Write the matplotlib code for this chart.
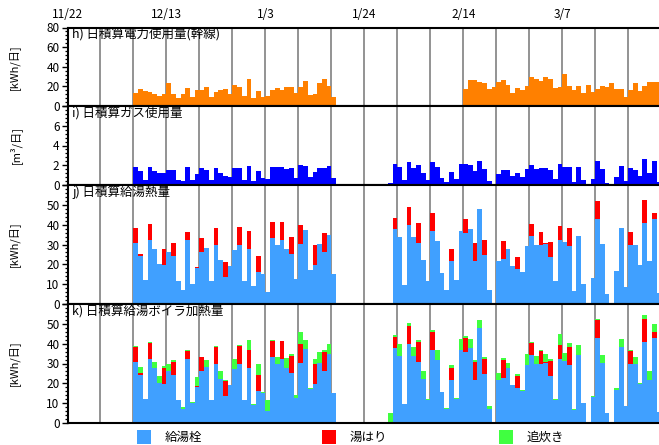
import matplotlib
matplotlib.use("Agg")
import matplotlib.pyplot as plt
from matplotlib.patches import Rectangle
from matplotlib.ticker import MultipleLocator
import numpy as np

plt.rcParams['font.family'] = ['Noto Sans CJK JP', 'DejaVu Sans']

# day index 0 = 11/22
date_ticks = [0, 21, 42, 63, 84, 105]
date_labels = ["11/22", "12/13", "1/3", "1/24", "2/14", "3/7"]
week_lines = list(range(7, 126, 7))

# h) daily electricity (trunk line) [kWh/day]
elec_start_a = 14
elec_a = [13, 17, 15, 14, 12, 10, 12, 23, 12, 8,
          12, 18, 9, 16, 16, 19, 9, 14, 16, 17,
          12, 21, 19, 10, 28, 8, 15, 9, 10, 16,
          18, 16, 19, 19, 13, 19, 25, 11, 12, 23,
          28, 20, 9]
elec_start_b = 84
elec_b = [17, 27, 26, 24, 23, 17, 19, 24, 26, 21,
          13, 18, 16, 20, 30, 28, 25, 30, 28, 18,
          19, 33, 20, 16, 20, 13, 21, 14, 17, 20,
          19, 23, 17, 17, 9, 16, 23, 15, 20, 24,
          24, 24]

# i) daily gas [m3/day]
gas_start_a = 14
gas_a = [1.86, 1.45, 0.55, 1.86, 1.45, 1.17, 1.24, 1.55, 1.55, 0.48,
         0.41, 1.86, 0.52, 1.14, 1.76, 1.55, 0.52, 1.76, 1.24, 0.93,
         0.86, 1.69, 1.76, 0.52, 1.97, 0.41, 1.45, 0.72, 0.62, 1.86,
         1.79, 1.86, 1.62, 1.69, 0.66, 2.07, 1.97, 0.86, 1.34, 1.69,
         1.69, 1.97, 0.72]
gas_start_b = 68
gas_b = [0.20, 2.17, 1.86, 0.52, 2.28, 1.76, 2.07, 1.24, 0.52, 2.28,
         1.86, 0.72, 0.31, 1.34, 0.62, 2.17, 2.17, 2.07, 1.45, 2.38,
         1.66, 0.41, 0.00, 1.14, 1.55, 1.55, 0.93, 1.24, 0.83, 1.66,
         2.07, 1.66, 1.76, 1.76, 1.55, 0.62, 2.17, 1.86, 1.86, 0.31,
         1.86, 0.52, 0.00, 0.62, 2.48, 1.66, 0.20, 0.00, 0.83, 1.97,
         0.41, 1.76, 1.55, 0.93, 2.59, 1.24, 2.48, 0.31]

# j) / k) hot water heat by use [kWh/day]
hw_start_a = 14
tap_a = [31.0, 24.0, 12.2, 32.2, 27.5, 20.3, 19.5, 26.4, 24.0, 11.7,
         7.1, 32.2, 10.2, 18.0, 26.1, 28.0, 11.7, 29.5, 22.4, 13.4,
         19.0, 27.1, 30.0, 11.4, 27.6, 9.3, 16.3, 15.3, 6.3, 33.2,
         30.0, 32.5, 27.5, 25.4, 12.7, 30.5, 37.1, 17.3, 19.8, 30.5,
         26.4, 34.6, 15.3]
fill_a = [7.3, 1.0, 0, 8.0, 0, 0, 8.0, 0, 7.0, 0,
          0, 4.0, 0, 0.5, 7.0, 0, 0, 8.8, 0, 8.0,
          0, 0, 8.6, 0, 9.0, 0, 8.0, 0, 0, 8.0,
          0, 8.7, 0, 8.2, 0, 9.2, 0, 0, 9.7, 0,
          9.2, 0, 0]
reheat_a = [0.5, 3.0, 0, 0.5, 3.4, 3.5, 1.0, 3.5, 1.0, 0,
            1.0, 0.5, 0.4, 4.8, 0.4, 4.0, 0, 0.5, 4.0, 0.5,
            0, 5.3, 0.5, 0.3, 5.0, 0.3, 5.6, 0.3, 5.4, 0.5,
            3.4, 0.3, 5.5, 1.0, 1.5, 6.0, 4.5, 0.4, 3.0, 5.5,
            1.0, 5.0, 0]
hw_start_b = 68
tap_b = [0.7, 37.6, 33.6, 9.8, 39.7, 33.6, 31.0, 22.4, 11.7, 36.6,
         32.0, 15.8, 7.1, 21.9, 12.2, 36.6, 35.6, 37.6, 21.9, 47.8,
         24.9, 7.1, 0, 21.9, 22.9, 27.5, 19.3, 17.8, 16.3, 29.0,
         34.1, 30.0, 30.0, 30.5, 23.9, 11.7, 32.5, 31.5, 29.0, 6.6,
         34.1, 10.2, 0, 13.2, 42.9, 30.5, 5.1, 0, 16.8, 38.3,
         8.6, 29.5, 29.5, 19.8, 40.7, 21.9, 42.7, 5.6]
fill_b = [0, 5.8, 0, 0, 9.1, 0, 9.7, 0, 0, 9.2,
          0, 0, 0, 5.6, 0, 0, 7.1, 0, 9.1, 0,
          7.6, 0, 0, 0, 9.1, 0, 0, 6.1, 0, 0,
          6.1, 0, 6.1, 0.5, 7.6, 0, 6.7, 0, 9.1, 0,
          0, 0, 0, 0, 9.0, 0, 0, 0, 0, 0,
          0, 6.6, 0, 0, 11.7, 0, 3.1, 0]
reheat_b = [4.5, 1.0, 6.0, 0, 1.5, 4.6, 1.0, 4.0, 0.3, 1.0,
            5.0, 0, 0.5, 1.5, 0.2, 6.0, 1.0, 5.0, 1.0, 4.0,
            1.0, 1.5, 0, 3.5, 1.0, 3.0, 0, 1.0, 0.5, 6.0,
            0.5, 4.0, 0.5, 4.0, 1.0, 0.5, 5.6, 4.0, 2.0, 0.5,
            5.0, 0, 0, 0.5, 0.5, 4.0, 0, 0, 1.0, 4.0,
            0, 0.5, 4.0, 0.5, 2.0, 4.5, 4.0, 0]

legend_labels = ["給湯栓", "湯はり", "追炊き"]

C_ELEC = "#FF8000"
C_GAS = "#0000FF"
C_TAP = "#40A0FF"
C_FILL = "#FF0000"
C_REHEAT = "#40FF40"
C_GRID = "#808080"


def series(start_a, vals_a, start_b, vals_b):
    days = np.concatenate([np.arange(start_a, start_a + len(vals_a)),
                           np.arange(start_b, start_b + len(vals_b))])
    vals = np.concatenate([np.asarray(vals_a, float), np.asarray(vals_b, float)])
    return days, vals


e_days, e_vals = series(elec_start_a, elec_a, elec_start_b, elec_b)
g_days, g_vals = series(gas_start_a, gas_a, gas_start_b, gas_b)
h_days, tap = series(hw_start_a, tap_a, hw_start_b, tap_b)
_, fill = series(hw_start_a, fill_a, hw_start_b, fill_b)
_, reheat = series(hw_start_a, reheat_a, hw_start_b, reheat_b)

W, H = 659, 445
fig = plt.figure(figsize=(W / 100, H / 100), dpi=100)

left_px, right_px = 67.5, 659.0
px_per_day = 4.712
xmax = (right_px - left_px) / px_per_day

# (top_px, bottom_px) of each panel
panels = [(27.5, 106.0), (106.0, 185.0), (185.0, 304.0), (304.0, 423.0)]
axes = []
for top, bot in panels:
    ax = fig.add_axes([left_px / W, 1 - bot / H, (right_px - left_px) / W, (bot - top) / H])
    axes.append(ax)

ax_h, ax_i, ax_j, ax_k = axes

bar_kw = dict(width=1.0, align='edge', linewidth=0, antialiased=False, zorder=3)
ax_h.bar(e_days, e_vals, color=C_ELEC, **bar_kw)
ax_i.bar(g_days, g_vals, color=C_GAS, **bar_kw)
ax_j.bar(h_days, tap, color=C_TAP, **bar_kw)
ax_j.bar(h_days, fill, bottom=tap, color=C_FILL, **bar_kw)
ax_k.bar(h_days, tap, color=C_TAP, **bar_kw)
ax_k.bar(h_days, fill, bottom=tap, color=C_FILL, **bar_kw)
ax_k.bar(h_days, reheat, bottom=tap + fill, color=C_REHEAT, **bar_kw)

titles = ["h) 日積算電力使用量(幹線)", "i) 日積算ガス使用量",
          "j) 日積算給湯熱量", "k) 日積算給湯ボイラ加熱量"]
ylabels = ["[kWh/日]", "[m³/日]", "[kWh/日]", "[kWh/日]"]
ylims = [80, 8, 60, 60]
majors = [20, 2, 10, 10]
minors = [4, 0.4, 2, 2]

for ax, title, ylab, ymax, mj, mn, (top, bot) in zip(axes, titles, ylabels, ylims, majors, minors, panels):
    ax.set_xlim(0, xmax)
    ax.set_ylim(0, ymax)
    for d in week_lines:
        ax.axvline(d, color=C_GRID, lw=1.2, zorder=1)
    ax.yaxis.set_major_locator(MultipleLocator(mj))
    ax.yaxis.set_minor_locator(MultipleLocator(mn))
    ticks = np.arange(0, ymax + mj / 2, mj)
    labels = [("%g" % t) if (t < ymax or ax is ax_h) else "" for t in ticks]
    ax.set_yticks(ticks)
    ax.set_yticklabels(labels)
    ax.tick_params(axis='y', which='major', length=4.2, width=1.0, pad=1.5,
                   labelsize=8.5, direction='out')
    ax.tick_params(axis='y', which='minor', length=2.0, width=0.9, direction='out')
    ax.set_xticks([])
    ax.spines['right'].set_visible(False)
    for s in ('left', 'bottom', 'top'):
        ax.spines[s].set_linewidth(1.5)
        ax.spines[s].set_color('black')
        ax.spines[s].set_zorder(5)
    ax.annotate(title, xy=(0, 1), xycoords='axes fraction',
                xytext=(3.3, -5.4), textcoords='offset points',
                ha='left', va='center', fontsize=9, zorder=6)
    fig.text(15 / W, 1 - (top + bot) / 2 / H, ylab, rotation=90,
             ha='center', va='center', fontsize=8)

for d, lab in zip(date_ticks, date_labels):
    fig.text((left_px + d * px_per_day) / W, 1 - 15 / H, lab,
             ha='center', va='center', fontsize=8.5)

legend_x = [137, 322, 499]
legend_colors = [C_TAP, C_FILL, C_REHEAT]
for x0, col, lab in zip(legend_x, legend_colors, legend_labels):
    fig.add_artist(Rectangle((x0 / W, 1 - 444 / H), 14 / W, 14 / H,
                             transform=fig.transFigure, color=col, lw=0))
    fig.text((x0 + 28) / W, 1 - 437 / H, lab, ha='left', va='center', fontsize=9)

fig.savefig("out.png", dpi=100)
